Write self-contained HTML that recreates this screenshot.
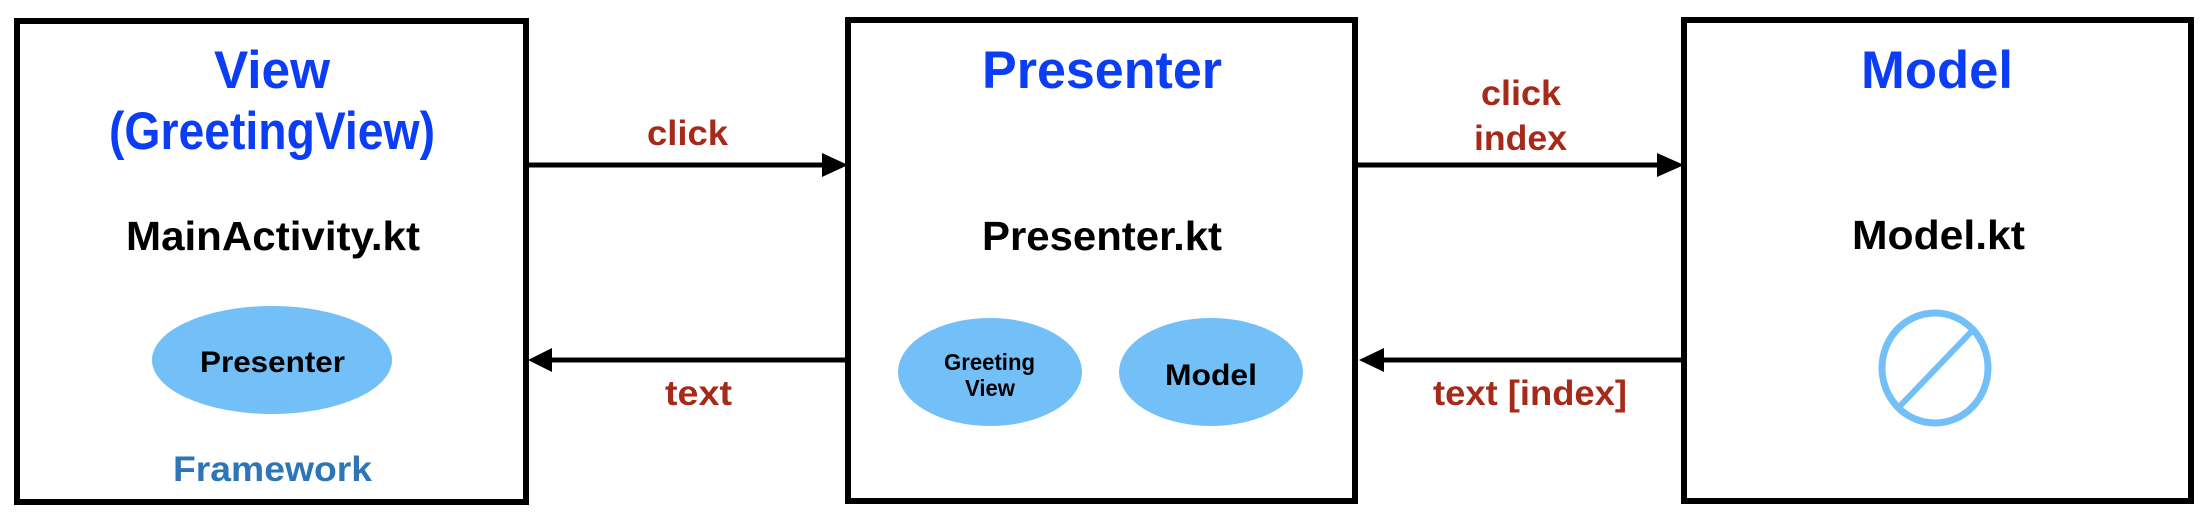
<!DOCTYPE html>
<html><head><style>html,body{margin:0;padding:0;background:#fff;width:2212px;height:520px;overflow:hidden}</style></head>
<body>
<svg width="2212" height="520" viewBox="0 0 2212 520" xmlns="http://www.w3.org/2000/svg" font-family="'Liberation Sans', Arial, sans-serif" font-weight="bold">
<g fill="none" stroke="#000" stroke-width="6">
<rect x="17" y="21" width="509" height="481"/>
<rect x="848" y="20" width="507" height="481"/>
<rect x="1684" y="20" width="507" height="481"/>
</g>
<g stroke="#000" stroke-width="5">
<line x1="526" y1="165" x2="826" y2="165"/>
<line x1="1355" y1="165" x2="1660" y2="165"/>
<line x1="550" y1="360" x2="848" y2="360"/>
<line x1="1382" y1="360" x2="1684" y2="360"/>
</g>
<g fill="#000">
<polygon points="848,165 822,153 822,177"/>
<polygon points="1684,165 1657,153 1657,177"/>
<polygon points="528,360 552,348 552,372"/>
<polygon points="1359,360 1384,348 1384,372"/>
</g>
<g fill="#73bff8">
<ellipse cx="272" cy="360" rx="120" ry="54"/>
<ellipse cx="990" cy="372" rx="92" ry="54"/>
<ellipse cx="1211" cy="372" rx="92" ry="54"/>
</g>
<ellipse cx="1935" cy="368" rx="53" ry="55" fill="none" stroke="#73bff8" stroke-width="7"/>
<line x1="1971" y1="332" x2="1900" y2="406" stroke="#73bff8" stroke-width="6"/>
<g fill="#0b3df5" font-size="53" lengthAdjust="spacingAndGlyphs">
<text x="214" y="88" textLength="116" lengthAdjust="spacingAndGlyphs">View</text>
<text x="109" y="149" textLength="326" lengthAdjust="spacingAndGlyphs">(GreetingView)</text>
<text x="982" y="88" textLength="240" lengthAdjust="spacingAndGlyphs">Presenter</text>
<text x="1861" y="88" textLength="152" lengthAdjust="spacingAndGlyphs">Model</text>
</g>
<g fill="#000" font-size="41">
<text x="126" y="250" textLength="294" lengthAdjust="spacingAndGlyphs">MainActivity.kt</text>
<text x="982" y="250" textLength="240" lengthAdjust="spacingAndGlyphs">Presenter.kt</text>
<text x="1852" y="249" textLength="173" lengthAdjust="spacingAndGlyphs">Model.kt</text>
</g>
<g fill="#000" font-size="30">
<text x="200" y="372" textLength="145" lengthAdjust="spacingAndGlyphs">Presenter</text>
<text x="1165" y="385" textLength="92" lengthAdjust="spacingAndGlyphs">Model</text>
</g>
<g fill="#000" font-size="23">
<text x="944" y="370" textLength="91" lengthAdjust="spacingAndGlyphs">Greeting</text>
<text x="965" y="396" textLength="50" lengthAdjust="spacingAndGlyphs">View</text>
</g>
<text x="173" y="481" font-size="35" fill="#2e75b6" textLength="199" lengthAdjust="spacingAndGlyphs">Framework</text>
<g fill="#a52a1a" font-size="35">
<text x="647" y="145" textLength="81" lengthAdjust="spacingAndGlyphs">click</text>
<text x="665" y="405" textLength="67" lengthAdjust="spacingAndGlyphs">text</text>
<text x="1481" y="105" textLength="80" lengthAdjust="spacingAndGlyphs">click</text>
<text x="1474" y="150" textLength="93" lengthAdjust="spacingAndGlyphs">index</text>
<text x="1433" y="405" textLength="194" lengthAdjust="spacingAndGlyphs">text [index]</text>
</g>
</svg>
</body></html>
